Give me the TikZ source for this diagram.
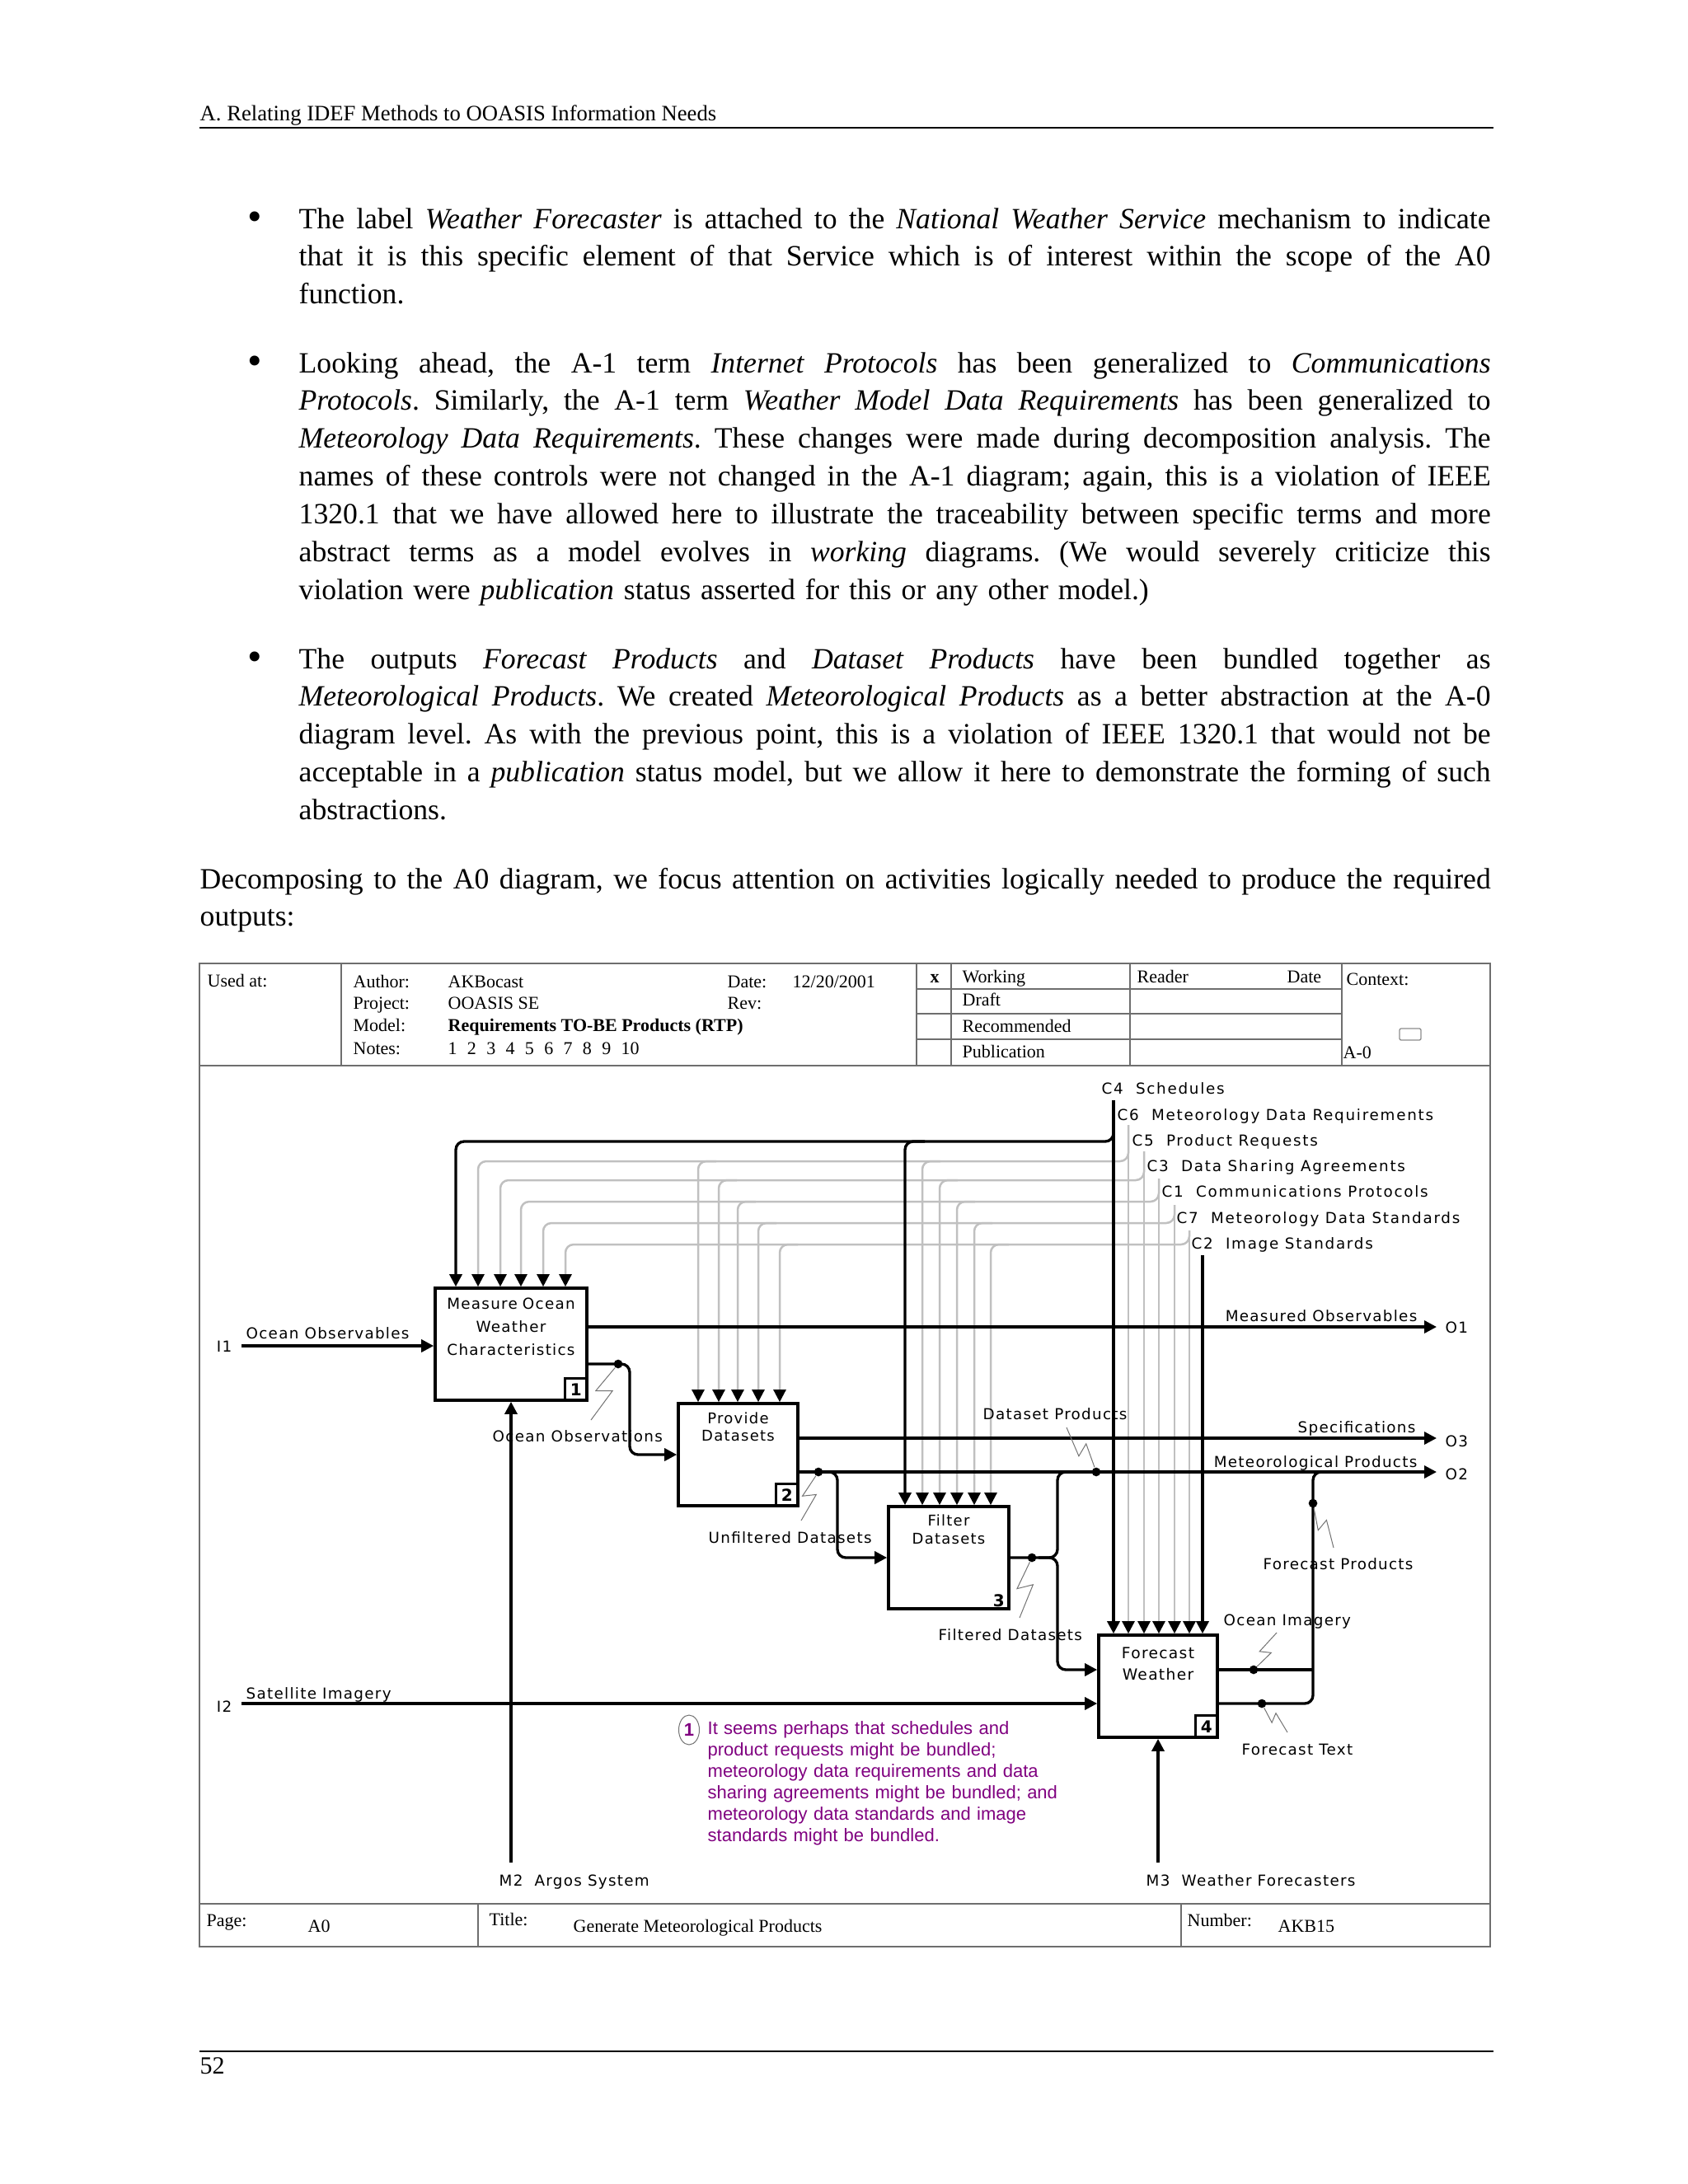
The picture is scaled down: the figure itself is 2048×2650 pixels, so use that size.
\documentclass[tikz,border=0pt]{standalone}
\usepackage{fontspec}
\setmainfont{Liberation Serif}
\newfontfamily\lblfont[LetterSpace=7]{DejaVu Sans}
\newfontfamily\ctlfont[LetterSpace=9.5]{DejaVu Sans}
\newfontfamily\numfont{DejaVu Sans}
\newfontfamily\notefont{Liberation Sans}
\usepackage{tikz}
\usetikzlibrary{arrows.meta,positioning,shapes.geometric,calc}
\definecolor{ctlgray}{RGB}{192,192,192}
\definecolor{framegray}{RGB}{110,110,110}
\definecolor{notepurple}{RGB}{128,0,128}
\newcommand\jline[2][433.8pt]{\noindent\hbox to #1{\spaceskip=0.25em plus 1fil\relax#2}\par}
\newcommand\squig[2]{\draw[squig] (#1) -- ($(#1)!0.56!-14:(#2)$) -- ($(#1)!0.44!14:(#2)$) -- (#2);}
\frenchspacing

\begin{document}
\begin{tikzpicture}[x=0.3pt,y=-0.3pt,
    frame/.style={draw=framegray,line width=0.6pt},
    bodytext/.style={anchor=base west,inner sep=0pt,text width=433.8pt,
      font=\fontsize{10.7}{13.75}\selectfont},
    bulletmark/.style={anchor=base,inner sep=0pt,font=\fontsize{15}{15}\selectfont},
    tb/.style={anchor=base west,inner sep=0pt,font=\fontsize{6.6}{8}\selectfont},
    lbl/.style={inner sep=0pt,font=\lblfont\fontsize{5.5}{6.6}\selectfont},
    ctllbl/.style={inner sep=0pt,anchor=base west,font=\ctlfont\fontsize{5.5}{6.6}\selectfont},
    actbox/.style={draw,line width=1.1pt,inner sep=0pt},
    boxtext/.style={anchor=base,inner sep=0pt,text width=60pt,align=center},
    numbox/.style={draw,line width=0.9pt,minimum size=8.1pt,inner sep=0pt,
      font=\numfont\bfseries\fontsize{6}{6}\selectfont},
    flow/.style={line width=1pt,rounded corners=3pt},
    flowarr/.style={flow,-{Triangle[length=4.5pt,width=4.5pt]}},
    ctl/.style={draw=ctlgray,line width=0.75pt,rounded corners=3pt,
      -{Triangle[length=4.5pt,width=4.5pt,color=black]}},
    ctlblack/.style={line width=1pt,rounded corners=3pt,
      -{Triangle[length=4.5pt,width=4.5pt]}},
    dot/.style={circle,fill,inner sep=0pt,minimum size=3.2pt},
    squig/.style={draw=black!55,line width=0.3pt}]
  \fill[white] (0,0) rectangle (2048,2650);
  \useasboundingbox (0,0) rectangle (2048,2650);

  % page text
  \node[anchor=base west,inner sep=0pt,font=\fontsize{8}{10}\selectfont] (runhead)
    at (242,146) {A. Relating IDEF Methods to OOASIS Information Needs};
  \draw[line width=0.6pt] (242,155) -- (1812,155);

  \node[bulletmark] (bul1) at (309,279) {\textbullet};
  \node[bodytext] (para1) at (362,277) {%
    \jline{The label \textit{Weather Forecaster} is attached to the \textit{National Weather Service} mechanism to indicate}
    \jline{that it is this specific element of that Service which is of interest within the scope of the A0}
    function.};
  \node[bulletmark] (bul2) at (309,454) {\textbullet};
  \node[bodytext] (para2) at (362,452) {%
    \jline{Looking ahead, the A-1 term \textit{Internet Protocols} has been generalized to \textit{Communications}}
    \jline{\textit{Protocols}. Similarly, the A-1 term \textit{Weather Model Data Requirements} has been generalized to}
    \jline{\textit{Meteorology Data Requirements}. These changes were made during decomposition analysis. The}
    \jline{names of these controls were not changed in the A-1 diagram; again, this is a violation of IEEE}
    \jline{1320.1 that we have allowed here to illustrate the traceability between specific terms and more}
    \jline{abstract terms as a model evolves in \textit{working} diagrams. (We would severely criticize this}
    violation were \textit{publication} status asserted for this or any other model.)};
  \node[bulletmark] (bul3) at (309,813) {\textbullet};
  \node[bodytext] (para3) at (362,811) {%
    \jline{The outputs \textit{Forecast Products} and \textit{Dataset Products} have been bundled together as}
    \jline{\textit{Meteorological Products}. We created \textit{Meteorological Products} as a better abstraction at the A-0}
    \jline{diagram level. As with the previous point, this is a violation of IEEE 1320.1 that would not be}
    \jline{acceptable in a \textit{publication} status model, but we allow it here to demonstrate the forming of such}
    abstractions.};
  \node[bodytext,text width=469.8pt] (para4) at (242,1078) {%
    \jline[469.8pt]{Decomposing to the A0 diagram, we focus attention on activities logically needed to produce the required}
    outputs:};

  \draw[line width=0.6pt] (242,2489) -- (1812,2489);
  \node[anchor=base west,inner sep=0pt,font=\fontsize{9}{10}\selectfont] (pagenum) at (242,2516) {52};

  % form
  \draw[frame] (242,1169) rectangle (1808,2362);
  \draw[frame] (242,1293) -- (1808,1293);
  \draw[frame] (242,2310) -- (1808,2310);
  \draw[frame] (414,1169) -- (414,1293);
  \foreach \x in {1112,1154,1371,1628} \draw[frame] (\x,1169) -- (\x,1293);
  \foreach \y in {1200,1230,1261} \draw[frame] (1112,\y) -- (1628,\y);
  \foreach \x in {580,1433} \draw[frame] (\x,2310) -- (\x,2362);
  \draw[draw=black!45,line width=0.4pt,rounded corners=0.6pt] (1698,1248) rectangle (1724,1262);

  \node[tb] (usedat) at (251,1197) {Used at:};
  \node[tb] (author) at (428,1198) {Author:};
  \node[tb] (authorv) at (543,1198) {AKBocast};
  \node[tb] (datel) at (882,1198) {Date:};
  \node[tb] (datev) at (961,1198) {12/20/2001};
  \node[tb] (project) at (428,1224) {Project:};
  \node[tb] (projectv) at (543,1224) {OOASIS SE};
  \node[tb] (rev) at (882,1224) {Rev:};
  \node[tb] (model) at (428,1251) {Model:};
  \node[tb,font=\fontsize{6.6}{8}\selectfont\bfseries] (modelv) at (543,1251) {Requirements TO-BE Products (RTP)};
  \node[tb] (notes) at (428,1279) {Notes:};
  \node[tb] (notesv) at (543,1279) {\spaceskip=3.7pt 1 2 3 4 5 6 7 8 9 10};
  \node[tb,font=\fontsize{6.6}{8}\selectfont\bfseries] (xmark) at (1128,1192) {x};
  \node[tb] (working) at (1167,1192) {Working};
  \node[tb] (reader) at (1379,1192) {Reader};
  \node[tb] (rdate) at (1561,1192) {Date};
  \node[tb] (draft) at (1167,1220) {Draft};
  \node[tb] (recomm) at (1167,1252) {Recommended};
  \node[tb] (publ) at (1167,1283) {Publication};
  \node[tb] (context) at (1633,1195) {Context:};
  \node[tb] (ctxnode) at (1629,1284) {A-0};
  \node[tb] (pagel) at (250,2337) {Page:};
  \node[tb] (pagev) at (373,2344) {A0};
  \node[tb] (titlel) at (593,2336) {Title:};
  \node[tb] (titlev) at (695,2344) {Generate Meteorological Products};
  \node[tb] (numberl) at (1440,2337) {Number:};
  \node[tb] (numberv) at (1550,2344) {AKB15};

  % activity boxes
  \node[actbox,minimum width=55.2pt,minimum height=40.8pt] (mow) at (620,1631) {};
  \node[actbox,minimum width=43.5pt,minimum height=37.2pt] (prov) at (895.5,1765) {};
  \node[actbox,minimum width=43.8pt,minimum height=37.2pt] (filt) at (1151,1890) {};
  \node[actbox,minimum width=43.2pt,minimum height=37.2pt] (fcst) at (1405,2046) {};
  \node[boxtext,font=\lblfont\fontsize{5.5}{8.4}\selectfont] (mowT) at ($(mow.north)+(0,27)$)
    {Measure Ocean\\Weather\\Characteristics};
  \node[boxtext,font=\lblfont\fontsize{5.4}{6.3}\selectfont] (provT) at ($(prov.north)+(0,26)$)
    {Provide\\Datasets};
  \node[boxtext,font=\lblfont\fontsize{5.4}{6.6}\selectfont] (filtT) at ($(filt.north)+(0,25)$)
    {Filter\\Datasets};
  \node[boxtext,font=\lblfont\fontsize{5.6}{7.8}\selectfont] (fcstT) at ($(fcst.north)+(0,30)$)
    {Forecast\\Weather};
  \node[numbox,anchor=south east] (mowN) at (mow.south east) {1};
  \node[numbox,anchor=south east] (provN) at (prov.south east) {2};
  \node[inner sep=0pt,font=\numfont\bfseries\fontsize{6}{6}\selectfont] (filtN)
    at ($(filt.south east)+(-14,-12)$) {3};
  \node[numbox,anchor=south east] (fcstN) at (fcst.south east) {4};

  % controls
  \coordinate (c4) at (1351,1335);
  \coordinate (c6) at (1369,1365);
  \coordinate (c5) at (1388,1397);
  \coordinate (c3) at (1406,1430);
  \coordinate (c1) at (1425,1462);
  \coordinate (c7) at (1443,1493);
  \coordinate (c2) at (1459,1523);
  \foreach \c/\lev/\xa/\xb/\xc in {c6/1409/580/847/1119,c5/1432/607/872/1140,
      c3/1458/632/895/1161,c1/1484/659/920/1182,c7/1510/686/946/1202}{
    \draw[ctl] (\c) -- (\c |- fcst.north);
    \draw[ctl] (\c) -- (\c |- 0,\lev) -- (\xa,\lev) -- (\xa,0 |- mow.north);
    \draw[ctl] (\xb+22,\lev) -- (\xb,\lev) -- (\xb,0 |- prov.north);
    \draw[ctl] (\xc+22,\lev) -- (\xc,\lev) -- (\xc,0 |- filt.north);
  }
  \draw[ctlblack] (c4) -- (c4 |- fcst.north);
  \draw[ctlblack] (c4) -- (c4 |- 0,1385) -- (553,1385) -- (553,0 |- mow.north);
  \draw[ctlblack] (1122,1385) -- (1098,1385) -- (1098,0 |- filt.north);
  \draw[ctlblack] (c2) -- (c2 |- fcst.north);

  \node[ctllbl] (c4L) at (1336,1327) {C4\ \ Schedules};
  \node[ctllbl] (c6L) at (1355,1359) {C6\ \ Meteorology Data Requirements};
  \node[ctllbl] (c5L) at (1373,1390) {C5\ \ Product Requests};
  \node[ctllbl] (c3L) at (1391,1421) {C3\ \ Data Sharing Agreements};
  \node[ctllbl] (c1L) at (1409,1452) {C1\ \ Communications Protocols};
  \node[ctllbl] (c7L) at (1427,1484) {C7\ \ Meteorology Data Standards};
  \node[ctllbl] (c2L) at (1445,1515) {C2\ \ Image Standards};

  % inputs, outputs, mechanisms
  \coordinate (i1) at (293,1633);
  \coordinate (i2) at (293,2067);
  \coordinate (o1) at (1743,1610);
  \coordinate (o3) at (1743,1745);
  \coordinate (o2) at (1743,1786);
  \coordinate (m2) at (620,2260);
  \coordinate (m3) at (1405,2260);
  \draw[flowarr] (i1) -- (i1 -| mow.west);
  \draw[flowarr] (i2) -- (i2 -| fcst.west);
  \draw[flowarr] (mow.east |- o1) -- (o1);
  \draw[flowarr] (prov.east |- o3) -- (o3);
  \draw[flowarr] (prov.east |- o2) -- (o2);
  \draw[flowarr] (mow.east |- 0,1655) -- (764,1655) -- (764,1765) -- (prov.west);
  \draw[flowarr] (993,1786) -- (1016,1786) -- (1016,1890) -- (filt.west);
  \draw[flow] (filt.east) -- (1283,1890) -- (1283,1786) -- (1310,1786);
  \draw[flowarr] (1260,1890) -- (1283,1890) -- (1283,2026) -- (fcst.west |- 0,2026);
  \draw[flow] (fcst.east |- 0,2026) -- (1593,2026);
  \draw[flow] (fcst.east |- 0,2067) -- (1593,2067) -- (1593,1786) -- (1620,1786);
  \draw[flowarr] (m2) -- (mow.south);
  \draw[flowarr] (m3) -- (fcst.south);

  \node[dot] (dOO) at (750,1655) {};
  \node[dot] (dUF) at (993,1786) {};
  \node[dot] (dDP) at (1330,1786) {};
  \node[dot] (dFD) at (1252,1890) {};
  \node[dot] (dFP) at (1593,1824) {};
  \node[dot] (dOI) at (1521,2026) {};
  \node[dot] (dFT) at (1531,2067) {};
  \coordinate (sOO) at (717,1723);
  \coordinate (sUF) at (972,1845);
  \coordinate (sDP) at (1294,1732);
  \coordinate (sFD) at (1237,1963);
  \coordinate (sFP) at (1618,1878);
  \coordinate (sOI) at (1549,1981);
  \coordinate (sFT) at (1562,2102);
  \squig{dOO}{sOO}
  \squig{dUF}{sUF}
  \squig{dDP}{sDP}
  \squig{dFD}{sFD}
  \squig{dFP}{sFP}
  \squig{dOI}{sOI}
  \squig{dFT}{sFT}

  \node[lbl,anchor=base east] (i1L) at (282,1640) {I1};
  \node[lbl,anchor=base east] (i2L) at (282,2077) {I2};
  \node[lbl,anchor=base west] (o1L) at (1753,1617) {O1};
  \node[lbl,anchor=base west] (o3L) at (1753,1755) {O3};
  \node[lbl,anchor=base west] (o2L) at (1753,1795) {O2};
  \node[lbl,anchor=base west] (oceanobsL) at (298,1624) {Ocean Observables};
  \node[lbl,anchor=base west] (satL) at (298,2061) {Satellite Imagery};
  \node[lbl,anchor=base east] (measL) at (1720,1603) {Measured Observables};
  \node[lbl,anchor=base east] (specL) at (1718,1738) {Specifications};
  \node[lbl,anchor=base east] (metL) at (1720,1780) {Meteorological Products};
  \node[lbl,anchor=base west] (ooL) at (597,1749) {Ocean Observations};
  \node[lbl,anchor=base west] (ufL) at (859,1872) {Unfiltered Datasets};
  \node[lbl,anchor=base west] (dpL) at (1192,1722) {Dataset Products};
  \node[lbl,anchor=base west] (fdL) at (1138,1990) {Filtered Datasets};
  \node[lbl,anchor=base west] (fpL) at (1532,1904) {Forecast Products};
  \node[lbl,anchor=base west] (oiL) at (1484,1972) {Ocean Imagery};
  \node[lbl,anchor=base west] (ftL) at (1506,2129) {Forecast Text};
  \node[lbl,anchor=base west] (m2L) at (605,2288) {M2\ \ Argos System};
  \node[lbl,anchor=base west] (m3L) at (1390,2288) {M3\ \ Weather Forecasters};

  % note
  \node[ellipse,draw=black!55,line width=0.3pt,inner sep=0pt,minimum width=7.5pt,
    minimum height=10.8pt,text=notepurple,font=\notefont\bfseries\fontsize{6.6}{7}\selectfont]
    (noteN) at (836,2099) {1};
  \node[anchor=base west,inner sep=0pt,text width=140pt,text=notepurple,
    font=\notefont\fontsize{6.6}{7.8}\selectfont] (noteT) at (858,2104)
    {It seems perhaps that schedules and\\
     product requests might be bundled;\\
     meteorology data requirements and data\\
     sharing agreements might be bundled; and\\
     meteorology data standards and image\\
     standards might be bundled.};
\end{tikzpicture}
\end{document}
